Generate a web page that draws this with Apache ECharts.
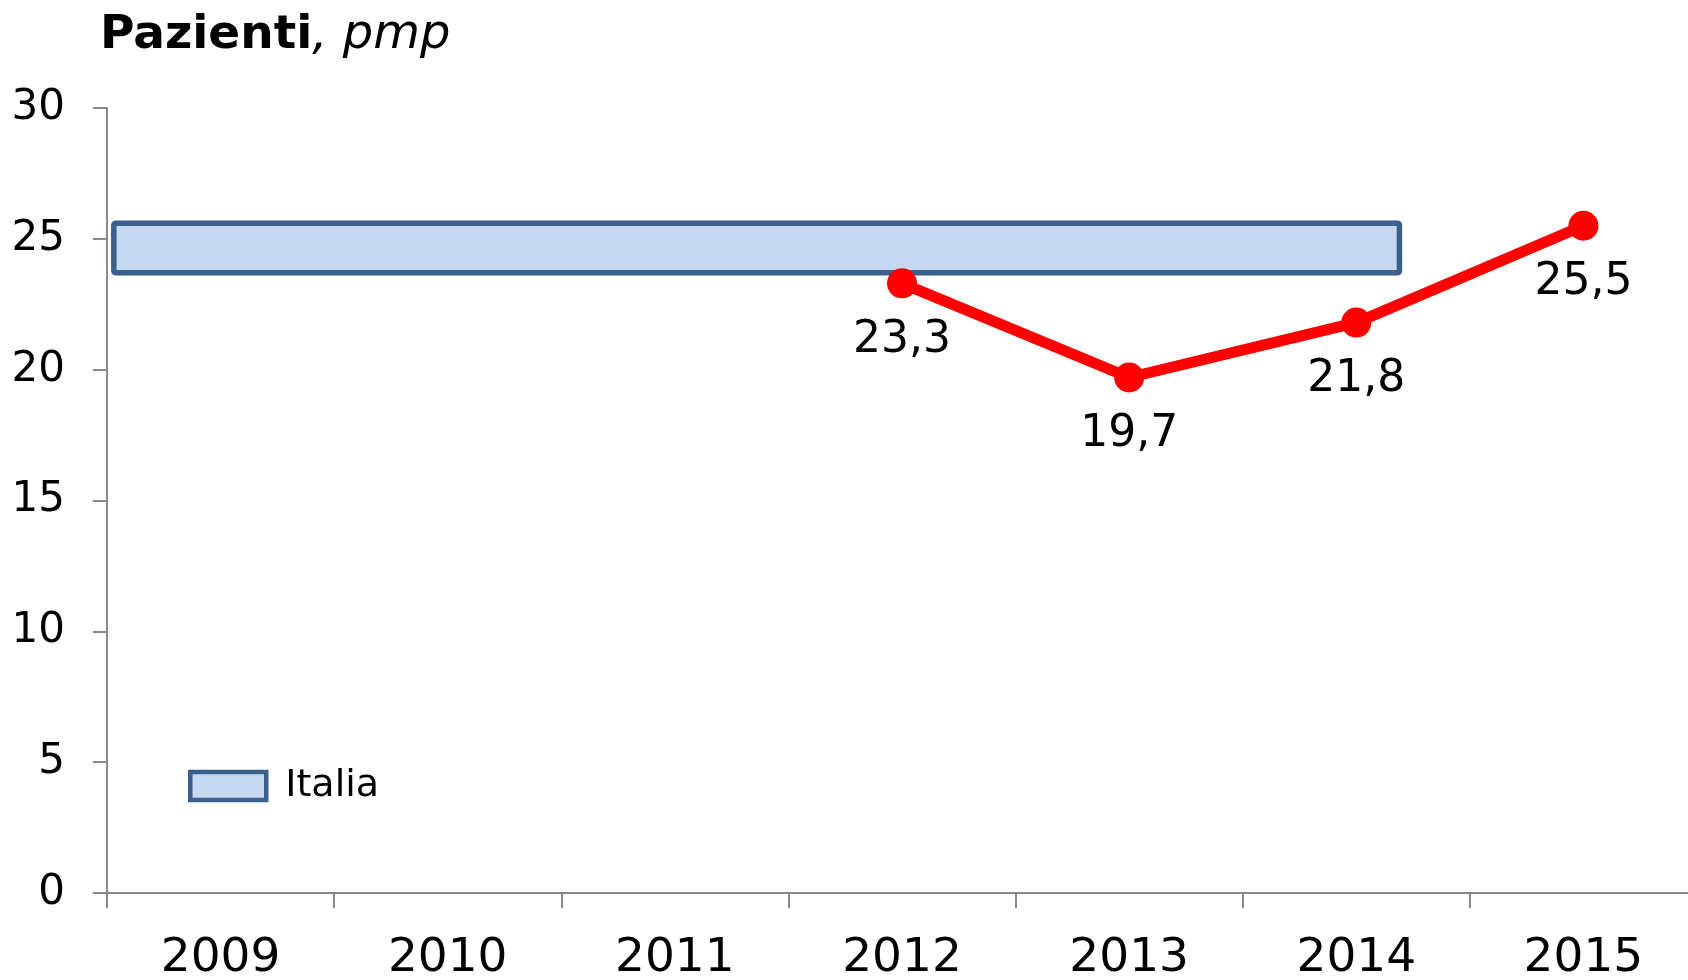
<!DOCTYPE html>
<html>
<head>
<meta charset="utf-8">
<title>Pazienti, pmp</title>
<script src="https://cdn.jsdelivr.net/npm/echarts@6/dist/echarts.min.js"></script>
<style>
  html, body { margin: 0; padding: 0; background: #fff; }
  #chart { width: 1688px; height: 980px; }
</style>
</head>
<body>
<div id="chart"></div>
<script>
const years = ['2009', '2010', '2011', '2012', '2013', '2014', '2015'];
const pazienti = [null, null, null, 23.3, 19.7, 21.8, 25.5];
// Italia band: [x from, x to] in category units, [y low, y high]
const italiaX = [0.03, 5.69];
const italiaY = [23.7, 25.6];
const yTicks = [0, 5, 10, 15, 20, 25, 30];

const font = 'DejaVu Sans';
const axisGrey = '#898989';

const chart = echarts.init(document.getElementById('chart'));

const option = {
  animation: false,
  textStyle: { fontFamily: font },
  title: {
    left: 95,
    top: 7,
    text: '{b|Pazienti}{i|, pmp}',
    textStyle: {
      rich: {
        b: { fontFamily: font, fontSize: 47, fontWeight: 'bold', color: '#000' },
        i: { fontFamily: font, fontSize: 48, fontWeight: 'normal', fontStyle: 'italic', color: '#000' }
      }
    }
  },
  legend: {
    left: 188,
    top: 767,
    padding: 0,
    orient: 'vertical',
    itemWidth: 76,
    itemHeight: 28,
    itemGap: 10,
    textStyle: { fontFamily: font, fontSize: 38, color: '#000', padding: [0, 0, 0, 14] },
    data: [{
      name: 'Italia',
      icon: 'rect',
      itemStyle: { color: '#C6D9F0', borderColor: '#3A5F8B', borderWidth: 4.5 }
    }]
  },
  grid: { left: 107, width: 1590, top: 108, bottom: 87, outerBoundsMode: 'none' },
  xAxis: [
    {
      type: 'category',
      data: years,
      boundaryGap: true,
      axisLine: { lineStyle: { color: axisGrey, width: 2 } },
      axisTick: { show: true, alignWithLabel: false, length: 15, lineStyle: { color: axisGrey, width: 2 } },
      axisLabel: { color: '#000', fontSize: 47, fontFamily: font, margin: 42 },
      splitLine: { show: false }
    },
    {
      type: 'value',
      min: 0,
      max: years.length,
      show: false
    }
  ],
  yAxis: {
    type: 'value',
    min: yTicks[0],
    max: yTicks[yTicks.length - 1],
    interval: 5,
    axisLine: { show: true, lineStyle: { color: axisGrey, width: 2 } },
    axisTick: { show: true, length: 14, lineStyle: { color: axisGrey, width: 2 } },
    axisLabel: { color: '#000', fontSize: 42, fontFamily: font, margin: 42 },
    splitLine: { show: false }
  },
  series: [
    {
      name: 'Italia',
      type: 'custom',
      xAxisIndex: 1,
      itemStyle: { color: '#C6D9F0', borderColor: '#3A5F8B' },
      data: [[italiaX[0], italiaX[1], italiaY[0], italiaY[1]]],
      renderItem: function (params, api) {
        const p1 = api.coord([api.value(0), api.value(3)]);
        const p2 = api.coord([api.value(1), api.value(2)]);
        return {
          type: 'rect',
          shape: { x: p1[0], y: p1[1], width: p2[0] - p1[0], height: p2[1] - p1[1], r: 2 },
          style: { fill: '#C6D9F0', stroke: '#3A5F8B', lineWidth: 5.5, lineJoin: 'round' }
        };
      },
      z: 1
    },
    {
      name: 'Pazienti',
      type: 'line',
      data: pazienti,
      symbol: 'circle',
      symbolSize: 30,
      lineStyle: { color: '#FF0000', width: 11 },
      itemStyle: { color: '#FF0000' },
      label: {
        show: true,
        position: 'bottom',
        distance: 20,
        color: '#000',
        fontSize: 44,
        fontFamily: font,
        formatter: function (p) { return String(p.value).replace('.', ','); }
      },
      z: 3
    }
  ]
};

chart.setOption(option);
</script>
</body>
</html>
